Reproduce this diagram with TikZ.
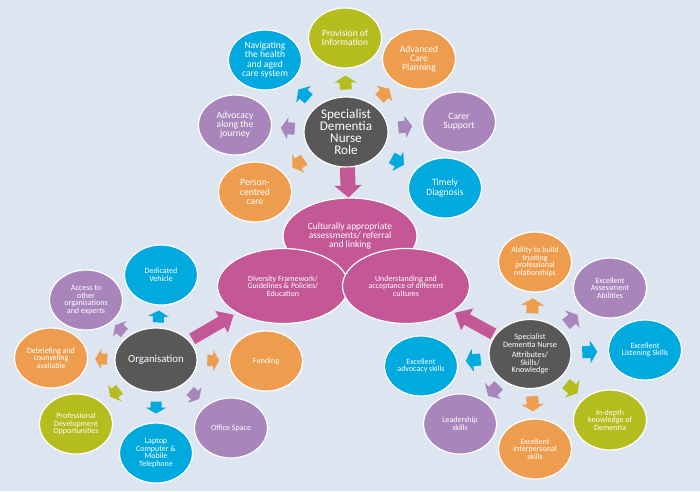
\documentclass[tikz,border=0pt]{standalone}
\usepackage{fontspec}
\setmainfont{Carlito}
\usetikzlibrary{shapes.geometric,decorations.markings}
\definecolor{bg}{HTML}{DDE6F0}
\definecolor{cgreen}{HTML}{B4BC1E}
\definecolor{corange}{HTML}{EE9D4E}
\definecolor{cblue}{HTML}{00A9DE}
\definecolor{cpurple}{HTML}{A886BC}
\definecolor{cmag}{HTML}{C45896}
\definecolor{cdark}{HTML}{585858}
\tikzset{
  bub/.style={ellipse, draw=white, line width=1.2pt, text=white, align=center,
    inner sep=0pt, minimum width=73pt, minimum height=60pt},
  fbig/.style={font=\fontsize{13.2}{12.3}\selectfont},
  fmed/.style={font=\fontsize{9.6}{9.3}\selectfont},
  fcult/.style={font=\fontsize{9.5}{9.2}\selectfont},
  forg/.style={font=\fontsize{10.8}{11}\selectfont},
  fatt/.style={font=\fontsize{8.2}{7.6}\selectfont},
  fsm/.style={font=\fontsize{8}{7.7}\selectfont},
  barrow/.style n args={5}{postaction={decorate}, decoration={markings,
    mark=at position 0.5 with {\fill[#1] ({-#4/2},{-#2/2}) -- ({#4/2-#5},{-#2/2})
      -- ({#4/2-#5},{-#3/2}) -- ({#4/2},0) -- ({#4/2-#5},{#3/2})
      -- ({#4/2-#5},{#2/2}) -- ({-#4/2},{#2/2}) -- cycle;}}},
  sa/.style={barrow={#1}{12}{22}{14}{7}},
  sb/.style={barrow={#1}{11}{21}{12}{6}},
  sc/.style={barrow={#1}{12}{23}{15}{7}},
}
\begin{document}
\begin{tikzpicture}[x=1pt,y=-1pt]
\useasboundingbox (0,0) rectangle (700,491);
\fill[bg] (0,0) rectangle (700,491);

% top cluster
\node[bub, fill=cdark, fbig, minimum width=84pt, minimum height=70pt] (role) at (346,132) {Specialist\\Dementia\\Nurse\\Role};
\node[bub, fill=cgreen, fmed] (prov) at (345,38) {Provision of\\Information};
\node[bub, fill=corange, fmed] (acp) at (419,59) {Advanced\\Care\\Planning};
\node[bub, fill=cblue, fmed] (nav) at (265,60) {Navigating\\the health\\and aged\\care system};
\node[bub, fill=cpurple, fmed] (advj) at (235,125) {Advocacy\\along the\\journey};
\node[bub, fill=cpurple, fmed] (carer) at (459,122) {Carer\\Support};
\node[bub, fill=corange, fmed] (pcc) at (255,192) {Person-\\centred\\care};
\node[bub, fill=cblue, fmed] (timely) at (445,188) {Timely\\Diagnosis};

% middle
\node[bub, fill=cmag, fcult, minimum width=134pt, minimum height=76pt] (cult) at (350,236) {Culturally appropriate\\assessments/ referral\\and linking};
\node[bub, fill=cmag, fsm, minimum width=131pt, minimum height=75pt] (div) at (283,286) {Diversity Framework/\\Guidelines \& Policies/\\Education};
\node[bub, fill=cmag, fsm, minimum width=127pt, minimum height=75pt] (und) at (406,286) {Understanding and\\acceptance of different\\cultures};

% bottom-left cluster
\node[bub, fill=cdark, forg, minimum width=82pt, minimum height=64pt] (org) at (156,360) {Organisation};
\node[bub, fill=cblue, fsm] (veh) at (161,275) {Dedicated\\Vehicle};
\node[bub, fill=cpurple, fsm] (acc) at (86,300) {Access to\\other\\organisations\\and experts};
\node[bub, fill=corange, fsm] (deb) at (51,358) {Debriefing and\\counseling\\available};
\node[bub, fill=cgreen, fsm] (pd) at (76,424) {Professional\\Development\\Opportunities};
\node[bub, fill=cblue, fsm] (lap) at (156,453) {Laptop\\Computer \&\\Mobile\\Telephone};
\node[bub, fill=cpurple, fsm] (off) at (231,428) {Office Space};
\node[bub, fill=corange, fsm] (fund) at (266,361) {Funding};

% bottom-right cluster
\node[bub, fill=cdark, fatt, minimum width=82pt, minimum height=69pt] (att) at (530,354) {Specialist\\Dementia Nurse\\[3pt]Attributes/\\Skills/\\Knowledge};
\node[bub, fill=corange, fsm] (abil) at (535,262) {Ability to build\\trusting\\professional\\relationships};
\node[bub, fill=cpurple, fsm] (assess) at (610,288) {Excellent\\Assessment\\Abilities};
\node[bub, fill=cblue, fsm] (listen) at (645,350) {Excellent\\Listening Skills};
\node[bub, fill=cgreen, fsm] (indepth) at (610,420) {In-depth\\knowledge of\\Dementia};
\node[bub, fill=corange, fsm] (inter) at (535,449) {Excellent\\interpersonal\\skills};
\node[bub, fill=cpurple, fsm] (lead) at (460,424) {Leadership\\skills};
\node[bub, fill=cblue, fsm] (advs) at (421,366) {Excellent\\advocacy skills};

% arrows top
\path[sa=cgreen] (role) -- (prov);
\path[sa=corange] (role) -- (acp);
\path[sa=cblue] (role) -- (nav);
\path[sa=cpurple] (role) -- (advj);
\path[sa=cpurple] (role) -- (carer);
\path[sa=corange] (role) -- (pcc);
\path[sa=cblue] (role) -- (timely);
\path[barrow={cmag}{15}{27}{30}{12}] (role) -- (cult);

% arrows bottom-left
\path[sb=cblue] (org) -- (veh);
\path[sb=cpurple] (org) -- (acc);
\path[sb=corange] (org) -- (deb);
\path[sb=cgreen] (org) -- (pd);
\path[sb=cblue] (org) -- (lap);
\path[sb=cpurple] (org) -- (off);
\path[sb=corange] (org) -- (fund);
\path[barrow={cmag}{12}{25}{48}{14}] (org) -- (div);

% arrows bottom-right
\path[sc=corange] (att) -- (abil);
\path[sc=cpurple] (att) -- (assess);
\path[sc=cblue] (att) -- (listen);
\path[sc=cgreen] (att) -- (indepth);
\path[sc=corange] (att) -- (inter);
\path[sc=cpurple] (att) -- (lead);
\path[sc=cblue] (att) -- (advs);
\path[barrow={cmag}{12}{25}{44}{14}] (att) -- (und);
\end{tikzpicture}
\end{document}
